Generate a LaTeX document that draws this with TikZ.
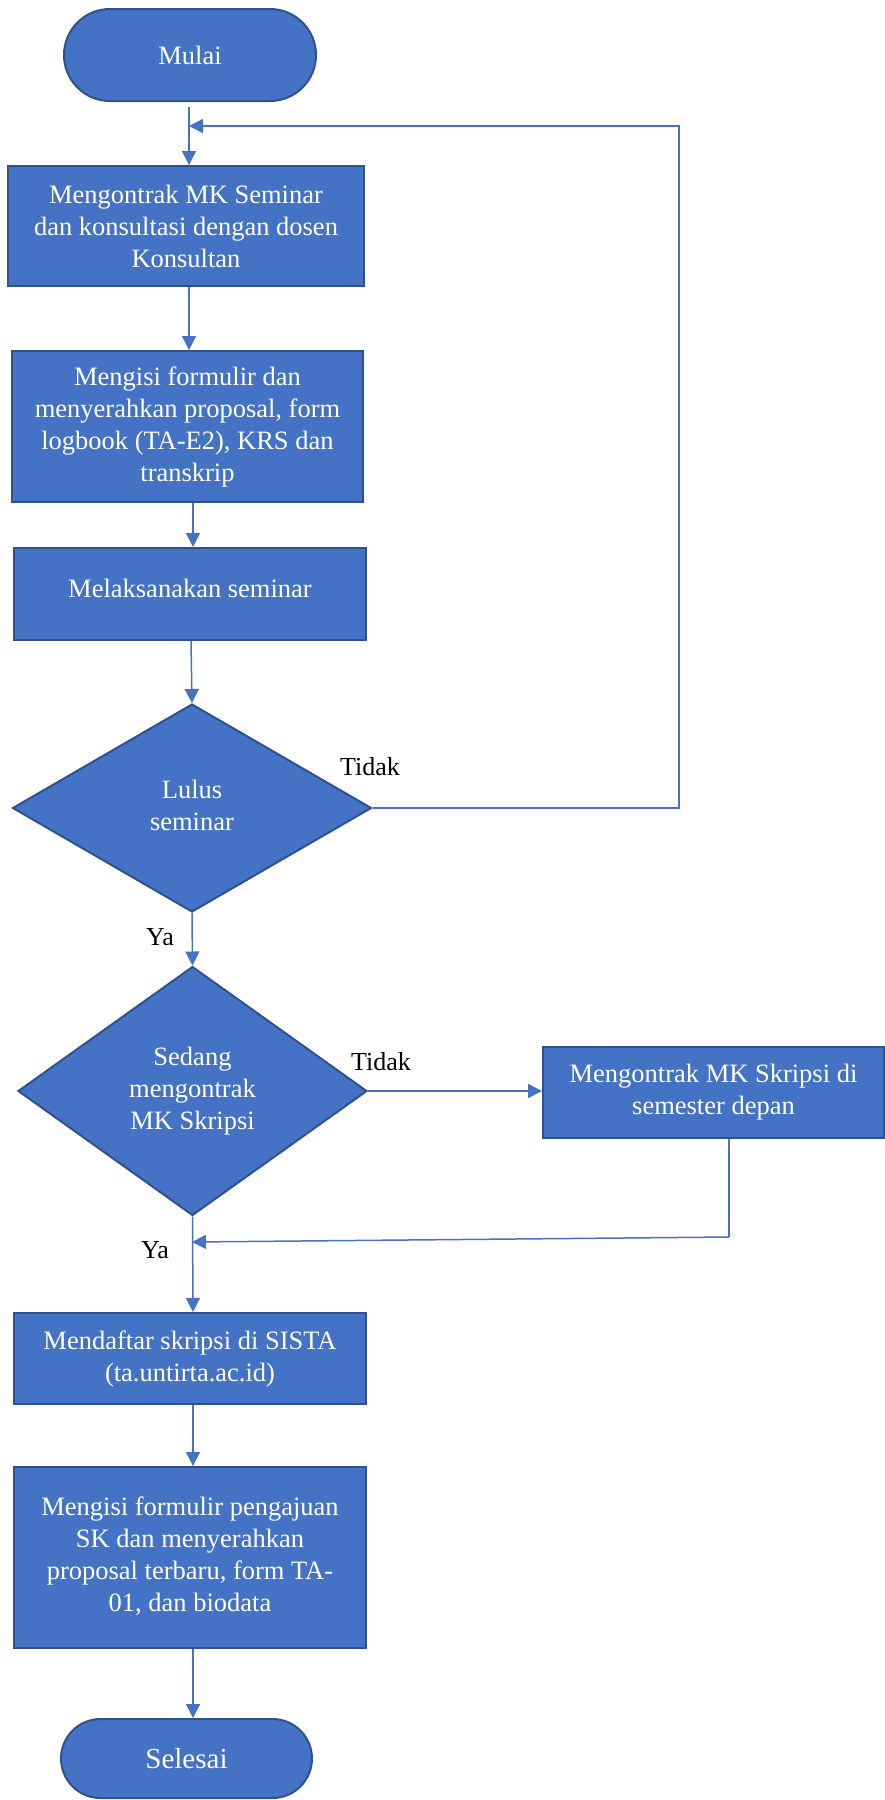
\documentclass[tikz,border=0pt]{standalone}
\usepackage{fontspec}
\setmainfont{Liberation Serif}
\usetikzlibrary{shapes.geometric,shapes.misc,arrows.meta,calc}
\definecolor{ofill}{HTML}{4472C4}
\definecolor{oborder}{HTML}{2F528F}
\begin{document}
\begin{tikzpicture}[x=1pt,y=-1pt,
  base/.style={draw=oborder,line width=2pt,fill=ofill,text=white,align=center,inner sep=0pt,
    font=\fontsize{26.5}{32}\selectfont},
  procbox/.style={base,rectangle},
  termbox/.style={base,rounded rectangle},
  decbox/.style={base,diamond},
  conn/.style={draw=ofill,line width=1.5pt},
  arr/.style={conn,-{Triangle[length=14pt,width=14pt]}},
  lbl/.style={font=\fontsize{26}{30}\selectfont,text=black,inner sep=0pt}]
\useasboundingbox (0,0) rectangle (885,1800);

\node[termbox,minimum width=252,minimum height=92] (mulai) at (190,55) {Mulai};
\node[procbox,minimum width=356,minimum height=120] (b1) at (186,226)
  {Mengontrak MK Seminar\\dan konsultasi dengan dosen\\Konsultan};
\node[procbox,minimum width=351,minimum height=151] (b2) at (187.5,426.5)
  {Mengisi formulir dan\\menyerahkan proposal, form\\logbook (TA-E2), KRS dan\\transkrip};
\node[procbox,minimum width=352,minimum height=92] (b3) at (190,594)
  {\raisebox{11pt}{Melaksanakan seminar}};
\node[decbox,minimum width=359,minimum height=208] (d1) at (192,808)
  {\raisebox{7pt}{\begin{tabular}{@{}c@{}}Lulus\\seminar\end{tabular}}};
\node[decbox,minimum width=349,minimum height=249] (d2) at (192.5,1091)
  {Sedang\\mengontrak\\MK Skripsi};
\node[procbox,minimum width=341,minimum height=91] (b4) at (713.5,1092.5)
  {Mengontrak MK Skripsi di\\semester depan};
\node[procbox,minimum width=352,minimum height=91] (b5) at (190,1358.5)
  {Mendaftar skripsi di SISTA\\(ta.untirta.ac.id)};
\node[procbox,minimum width=352,minimum height=181] (b6) at (190,1557.5)
  {\raisebox{10pt}{\begin{tabular}{@{}c@{}}Mengisi formulir pengajuan\\SK dan menyerahkan\\proposal terbaru, form TA-\\01, dan biodata\end{tabular}}};
\node[termbox,minimum width=251,minimum height=79,font=\fontsize{29}{34}\selectfont] (selesai) at (186.5,1758.5) {Selesai};

\node[lbl] (t1) at (370,767) {Tidak};
\node[lbl] (y1) at (160,937) {Ya};
\node[lbl] (t2) at (381,1062) {Tidak};
\node[lbl] (y2) at (155,1250) {Ya};

\coordinate (s0) at (189,107);
\coordinate (fb) at (679,126);
\coordinate (fbin) at (189,126);
\coordinate (k1) at (729,1237);
\coordinate (k2) at (192,1242);

\draw[arr] (s0) -- (s0 |- b1.north);
\draw[arr] (d1.east) -| (fb) -- (fbin);
\draw[arr] (b1.south -| s0) -- (s0 |- b2.north);
\draw[arr] ($(b2.south)+(5.5,0)$) -- ($(b3.north)+(3,0)$);
\draw[arr] ($(b3.south)+(1,0)$) -- (d1.north);
\draw[arr] (d1.south) -- (d2.north);
\draw[arr] (d2.east) -- (d2.east -| b4.west);
\draw[conn] (b4.south -| k1) -- (k1);
\draw[arr] (k1) -- (k2);
\draw[arr] (d2.south) -- ($(b5.north)+(3,0)$);
\draw[arr] ($(b5.south)+(3,0)$) -- ($(b6.north)+(3,0)$);
\draw[arr] ($(b6.south)+(3,0)$) -- ($(selesai.north)+(6.5,0)$);
\end{tikzpicture}
\end{document}
